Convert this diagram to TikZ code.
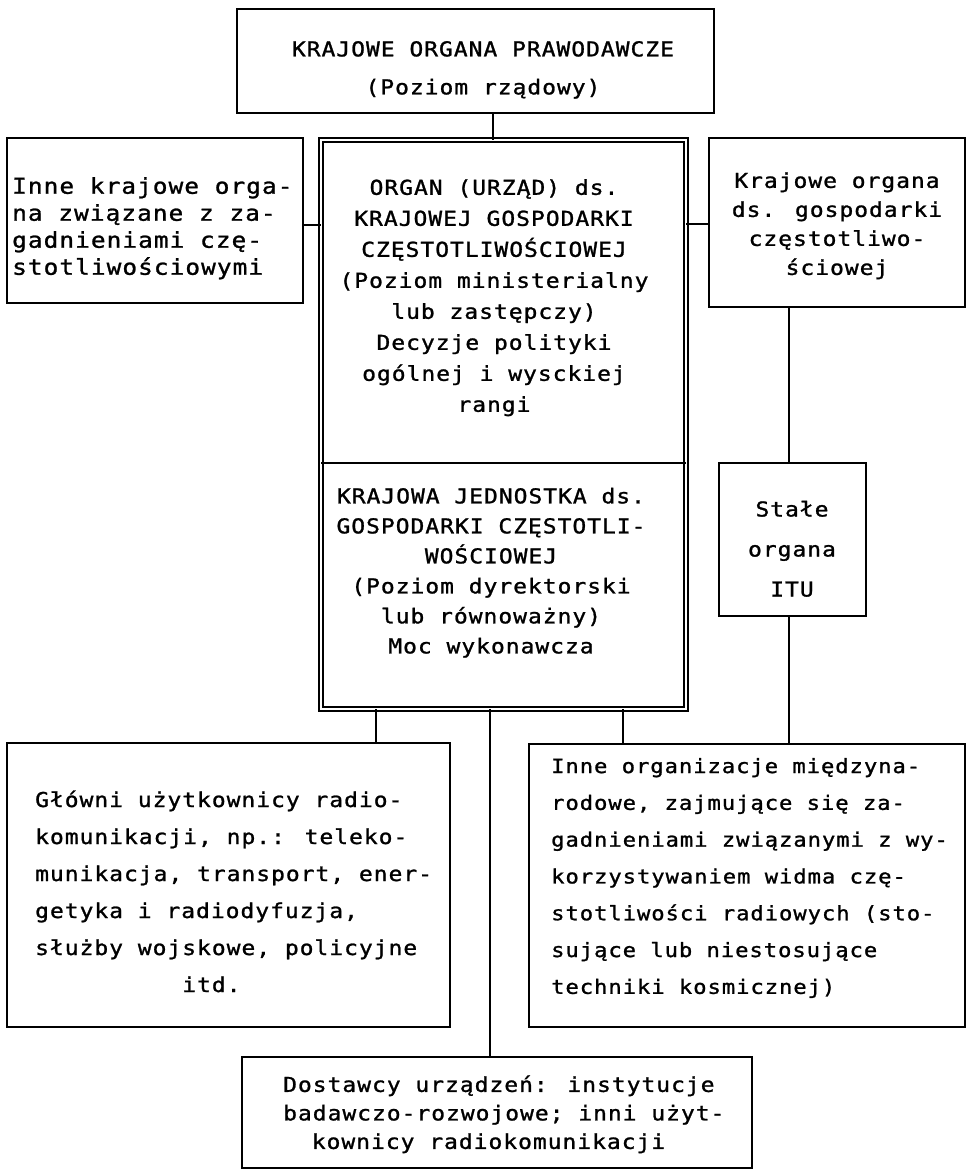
\documentclass[tikz,border=0pt]{standalone}
\usepackage{fontspec}
\newfontfamily\dm{DejaVu Sans Mono}[LetterSpace=4.8,FakeStretch=1.12,FakeBold=1.2]
\newcommand\tp{\rule{0pt}{17pt}}
\newcommand\bt{\rule[-4pt]{0pt}{4pt}}
\tikzset{
  box/.style={draw, line width=2.2pt, inner sep=0pt, outer sep=0pt},
  frame/.style={draw, double, double distance=1.8pt, line width=2pt, inner sep=0pt, outer sep=0pt},
  txt/.style={inner sep=0pt, font=\dm\fontsize{20.5}{#1}\selectfont},
  txts/.style={inner sep=0pt, font=\dm\fontsize{19.8}{#1}\selectfont},
  txtl/.style={inner sep=0pt, font=\dm\fontsize{21.8}{#1}\selectfont},
  link/.style={line width=2.2pt},
}
\begin{document}
\begin{tikzpicture}[x=1pt,y=-1pt]
\useasboundingbox (0,0) rectangle (966,1173);
\fill[white] (0,0) rectangle (966,1173);

% boxes
\node[box, minimum width=477pt, minimum height=104pt] (top) at (475.5,61) {};
\node[box, minimum width=296pt, minimum height=165pt] (left) at (155,220.5) {};
\node[frame, minimum width=365pt, minimum height=569pt] (cen) at (503.5,424.5) {};
\node[box, minimum width=256pt, minimum height=169pt] (right) at (837,222.5) {};
\node[box, minimum width=147pt, minimum height=153pt] (stale) at (792.5,539.5) {};
\node[box, minimum width=443pt, minimum height=284pt] (bl) at (228.5,885) {};
\node[box, minimum width=436pt, minimum height=283pt] (br) at (747,885.5) {};
\node[box, minimum width=510pt, minimum height=111pt] (bot) at (497,1112.5) {};

% divider inside the central box
\coordinate (dv) at (0,463);
\draw[line width=1.8pt] (cen.west |- dv) -- (cen.east |- dv);

% texts
\node[txt=38, align=center] (topT) at (483,69)
  {\tp KRAJOWE ORGANA PRAWODAWCZE\\(Poziom rządowy)\bt};
\node[txtl=27, align=left, anchor=west] (leftT) at (12,228)
  {\tp Inne krajowe orga-\\na związane z za-\\gadnieniami czę-\\stotliwościowymi\bt};
\node[txt=31, align=center] (cenA) at (494,297)
  {\tp ORGAN (URZĄD) ds.\\KRAJOWEJ GOSPODARKI\\CZĘSTOTLIWOŚCIOWEJ\\(Poziom ministerialny\\lub zastępczy)\\Decyzje polityki\\ogólnej i wysckiej\\rangi\bt};
\node[txt=30, align=center] (cenB) at (491,572)
  {\tp KRAJOWA JEDNOSTKA ds.\\GOSPODARKI CZĘSTOTLI-\\WOŚCIOWEJ\\(Poziom dyrektorski\\lub równoważny)\\Moc wykonawcza\bt};
\node[txt=29, align=center] (rightT) at (837,225)
  {\tp Krajowe organa\\ds. gospodarki\\częstotliwo-\\ściowej\bt};
\node[txt=40, align=center] (staleT) at (792,550)
  {\tp Stałe\\organa\\ITU\bt};
\node[txt=37, align=left, anchor=west] (blT) at (35,893)
  {\tp Główni użytkownicy radio-\\komunikacji, np.: teleko-\\munikacja, transport, ener-\\getyka i radiodyfuzja,\\służby wojskowe, policyjne\\\phantom{xxxxxxxxxx}itd.\bt};
\node[txts=36.8, align=left, anchor=west] (brT) at (551,877)
  {\tp Inne organizacje międzyna-\\rodowe, zajmujące się za-\\gadnieniami związanymi z wy-\\korzystywaniem widma czę-\\stotliwości radiowych (sto-\\sujące lub niestosujące\\techniki kosmicznej)\bt};
\node[txt=28.5, align=left, anchor=west] (botT) at (283,1114)
  {\tp Dostawcy urządzeń: instytucje\\badawczo-rozwojowe; inni użyt-\\\phantom{xx}kownicy radiokomunikacji\bt};

% connectors
\coordinate (c1) at (493,0);
\draw[link] (top.south -| c1) -- (cen.north -| c1);
\coordinate (c2) at (0,225);
\draw[link] (left.east |- c2) -- (cen.west |- c2);
\coordinate (c3) at (0,224);
\draw[link] (right.west |- c3) -- (cen.east |- c3);
\coordinate (c4) at (789,0);
\draw[link] (right.south -| c4) -- (stale.north -| c4);
\draw[link] (stale.south -| c4) -- (br.north -| c4);
\coordinate (c5) at (376,0);
\draw[link] (cen.south -| c5) -- (bl.north -| c5);
\coordinate (c6) at (490,0);
\draw[link] (cen.south -| c6) -- (bot.north -| c6);
\coordinate (c7) at (623,0);
\draw[link] (cen.south -| c7) -- (br.north -| c7);
\end{tikzpicture}
\end{document}
